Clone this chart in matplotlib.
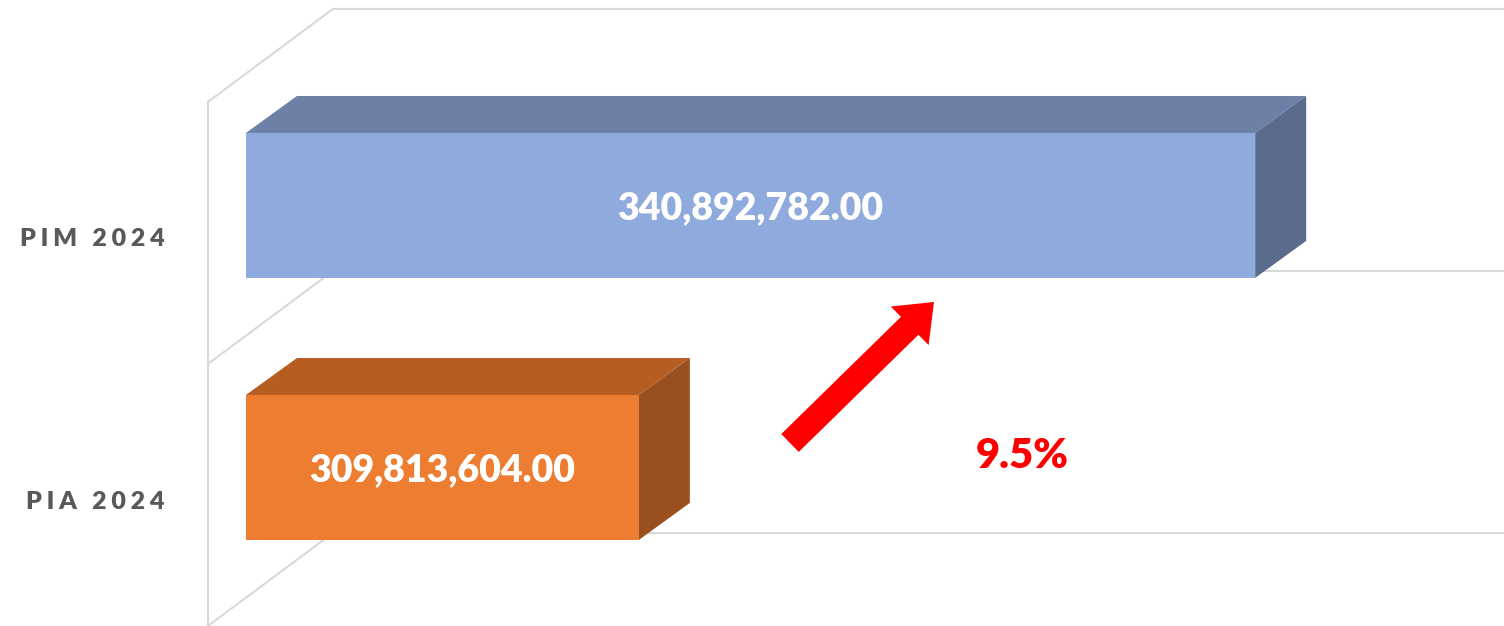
import matplotlib.pyplot as plt
from matplotlib.patches import Polygon, FancyArrow
from matplotlib.transforms import IdentityTransform

categories = ['PIA 2024', 'PIM 2024']
values = [309813604.00, 340892782.00]
value_labels = ['309,813,604.00', '340,892,782.00']
growth_label = '9.5%'

front_colors = ['#ED7D31', '#8FAADC']
top_colors = ['#B65E22', '#6D80A6']
side_colors = ['#9A501E', '#5B6B8C']

W, H, DPI = 1504, 626, 100
axis_min = 290.0            # value axis start, millions
xlim = (277.6, 353.44)
ylim = (-0.605, 1.784)
bar_h = 0.553

fig = plt.figure(figsize=(W / DPI, H / DPI), dpi=DPI)
ax = fig.add_axes([0, 0, 1, 1])
ax.set_xlim(*xlim)
ax.set_ylim(*ylim)
ax.axis('off')

px_x = (xlim[1] - xlim[0]) / W
px_y = (ylim[1] - ylim[0]) / H
ddx, ddy = 51 * px_x, 37 * px_y          # bar depth
wdx, wdy = 125 * px_x, 93 * px_y         # wall depth
wall_x = axis_min - 38 * px_x
grid = '#D9D9D9'

# side wall and back wall lines
bounds = [i + 0.395 for i in (1, 0, -1)]
ax.plot([wall_x, wall_x], [bounds[-1], bounds[0]], color=grid, lw=1.5, zorder=1)
for b in bounds:
    ax.plot([wall_x, wall_x + wdx, xlim[1]], [b, b + wdy, b + wdy],
            color=grid, lw=1.5, zorder=1)

for i, v in enumerate(values):
    v = v / 1e6
    y0, y1 = i - bar_h / 2, i + bar_h / 2
    front = Polygon([(axis_min, y0), (v, y0), (v, y1), (axis_min, y1)],
                    closed=True, fc=front_colors[i], ec='none', zorder=3)
    top = Polygon([(axis_min, y1), (v, y1), (v + ddx, y1 + ddy), (axis_min + ddx, y1 + ddy)],
                  closed=True, fc=top_colors[i], ec='none', zorder=2)
    side = Polygon([(v, y0), (v + ddx, y0 + ddy), (v + ddx, y1 + ddy), (v, y1)],
                   closed=True, fc=side_colors[i], ec='none', zorder=2)
    for p in (top, side, front):
        ax.add_patch(p)
    ax.text((axis_min + v) / 2, i - 0.01, value_labels[i], color='white',
            fontsize=27, fontweight='heavy', family='Lato',
            ha='center', va='center', zorder=4)
    ax.text(165 * px_x + xlim[0], i - 0.13, '\u2009\u200a'.join(categories[i]),
            color='#595959', fontsize=18, fontweight='heavy', family=['Lato', 'DejaVu Sans'],
            ha='right', va='center')

ax.text(0.680, 0.272, growth_label, transform=ax.transAxes, color='#FF0000',
        fontsize=30, fontweight='heavy', family='Lato', ha='center', va='center')

arrow = FancyArrow(790, H - 443, 144, 141, width=25, head_width=54, head_length=34,
                   length_includes_head=True, color='#FF0000', lw=0,
                   transform=IdentityTransform(), zorder=5)
fig.patches.append(arrow)

fig.savefig('out.png', dpi=DPI)
